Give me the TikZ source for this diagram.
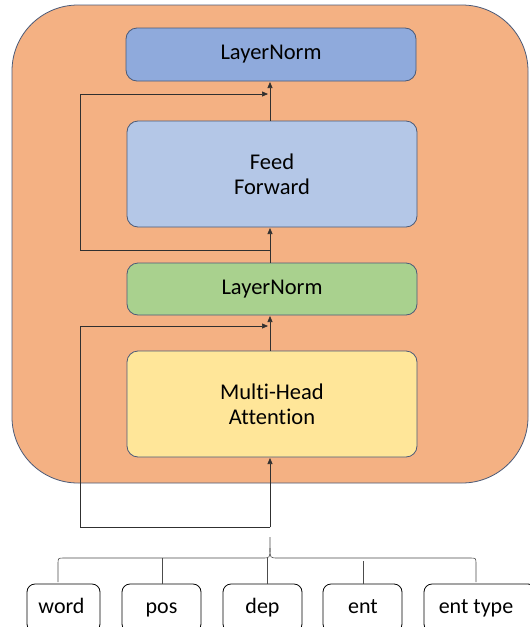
\documentclass[tikz,border=0pt]{standalone}
\usepackage{fontspec}
\setmainfont[Ligatures={NoCommon}]{Carlito}
\usetikzlibrary{arrows.meta}
\definecolor{orangebg}{HTML}{F4B183}
\definecolor{lnblue}{HTML}{8FAADC}
\definecolor{ffblue}{HTML}{B4C7E7}
\definecolor{lngreen}{HTML}{A9D18E}
\definecolor{attyellow}{HTML}{FFE699}
\definecolor{edgeblue}{HTML}{4A5A78}
\definecolor{linegray}{HTML}{303030}
\tikzset{
  block/.style={draw=edgeblue, line width=0.8pt, rounded corners=11pt, minimum width=290pt, align=center, font=\fontsize{22.5}{25}\selectfont},
  inbox/.style={draw=black, line width=0.8pt, rounded corners=8pt, fill=white},
  intext/.style={anchor=base, font=\fontsize{22}{25}\selectfont, inner sep=0pt},
  conn/.style={draw=linegray, line width=0.7pt},
  arr/.style={conn, -{Triangle[length=6pt,width=5pt]}},
  bracel/.style={draw=black!70, line width=0.6pt},
}
\begin{document}
\begin{tikzpicture}[x=1pt,y=-1pt]
\clip (0,0) rectangle (530,627);
\fill[white] (0,0) rectangle (530,627);
% outer encoder block
\node[draw=edgeblue, line width=0.8pt, fill=orangebg, rounded corners=66pt, minimum width=516pt, minimum height=478pt, inner sep=0pt] (enc) at (270,244) {};
% blocks
\node[block, fill=lnblue, minimum height=53pt] (ln2) at (271,54.5) {LayerNorm};
\node[block, fill=ffblue, minimum height=106pt] (ff) at (272,174) {Feed\\Forward};
\node[block, fill=lngreen, minimum height=52pt] (ln1) at (272,289) {LayerNorm};
\node[block, fill=attyellow, minimum height=106pt] (att) at (272,404) {Multi-Head\\Attention};
% coordinates on main line
\coordinate (base) at (270,527);
\coordinate (split1) at (270,250);
\coordinate (tip) at (270,537);
\coordinate (r1a) at (80,527);
\coordinate (r1b) at (80,326);
\coordinate (r1c) at (268,326);
\coordinate (r2a) at (80,250);
\coordinate (r2b) at (80,94);
\coordinate (r2c) at (268,94);
% main flow
\draw[arr] (base) -- (270,458);
\draw[arr] (270,351) -- (270,316);
\draw[arr] (270,263) -- (270,228);
\draw[arr] (270,121) -- (270,82);
% residuals
\draw[conn] (base) -- (r1a) -- (r1b);
\draw[arr] (r1b) -- (r1c);
\draw[conn] (split1) -- (r2a) -- (r2b);
\draw[arr] (r2b) -- (r2c);
% input boxes
\node[inbox, minimum width=73pt, minimum height=48pt] (word) at (63.5,608) {};
\node[inbox, minimum width=79pt, minimum height=48pt] (pos) at (161.5,608) {};
\node[inbox, minimum width=79pt, minimum height=48pt] (dep) at (262.5,608) {};
\node[inbox, minimum width=79pt, minimum height=48pt] (ent) at (362.5,608) {};
\node[inbox, minimum width=112pt, minimum height=48pt] (etype) at (480,608) {};
\node[intext] at (61.5,613) {word};
\node[intext] at (161.5,613) {pos};
\node[intext] at (262.5,613) {dep};
\node[intext] at (363,613) {ent};
\node[intext] at (476,613) {ent type};
% brace
\draw[bracel] (58,582) -- (58,564) .. controls (58,558) .. (64,558) -- (262,558) .. controls (270,558) .. (270,548) -- (tip);
\draw[bracel] (476,582) -- (476,564) .. controls (476,558) .. (470,558) -- (278,558) .. controls (270,558) .. (270,548);
% branches
\draw[bracel] (162,558) -- (pos.north -| 162,0);
\draw[bracel] (267,558) -- (dep.north -| 267,0);
\draw[bracel] (363,561) -- (ent.north -| 363,0);
\end{tikzpicture}
\end{document}
